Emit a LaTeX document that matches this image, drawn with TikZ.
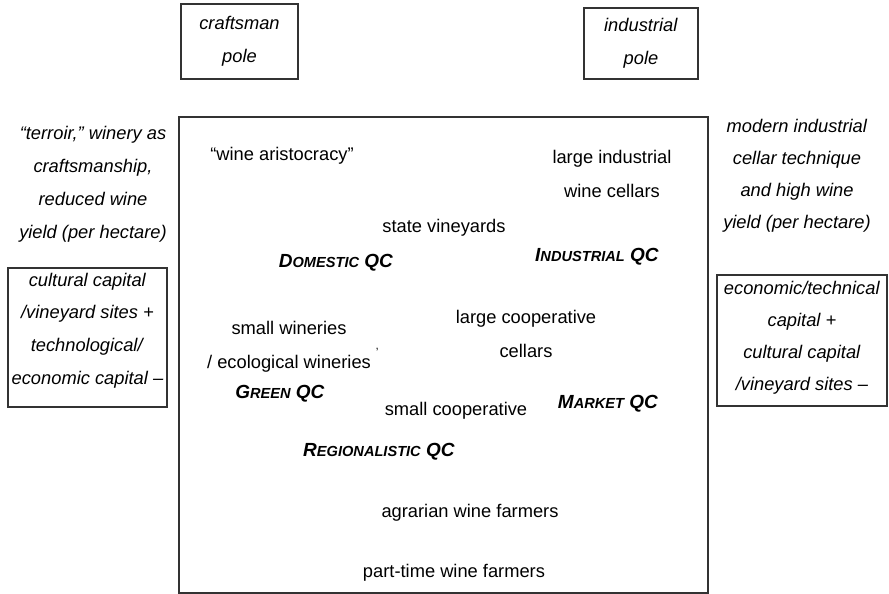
\documentclass[tikz,border=0pt]{standalone}
\usepackage{fontspec}
\setmainfont{Liberation Sans}
\usetikzlibrary{positioning}
\definecolor{FieldLine}{HTML}{333333}
% fake small caps for the quality conventions
\newcommand{\qcname}[2]{\textbf{\textit{#1{\fontsize{14.6}{15}\selectfont #2} QC}}}

\begin{document}
\begin{tikzpicture}[x=1pt, y=-1pt,
  every node/.style={inner sep=0pt},
  polebox/.style={draw=FieldLine, line width=1.1pt, align=center, font=\fontsize{18.3}{33}\selectfont},
  capbox/.style={draw=FieldLine, line width=1.1pt},
  captext/.style={align=center, font=\fontsize{18.3}{32.7}\selectfont},
  sidenote/.style={align=center, font=\fontsize{18.3}{33}\selectfont},
  actor/.style={align=center, font=\fontsize{18.3}{33.5}\selectfont},
  qc/.style={font=\fontsize{19}{20}\selectfont}]
  \useasboundingbox (0,0) rectangle (889,594);

  % poles
  \node[polebox, minimum width=117, minimum height=75] (craftpole) at (239.5,41.5) {\textit{craftsman}\\\textit{pole}};
  \node[polebox, minimum width=114, minimum height=71] (indpole) at (641,43.5) {\textit{industrial}\\\textit{pole}};

  % the field
  \node[draw=FieldLine, line width=1.1pt, minimum width=529, minimum height=476] (field) at (443.5,355) {};

  % left and right side
  \node[sidenote] (craftnote) at (93,184) {\textit{``terroir,'' winery as}\\\textit{craftsmanship,}\\\textit{reduced wine}\\\textit{yield (per hectare)}};
  \node[sidenote, font=\fontsize{18.3}{32}\selectfont] (indnote) at (797,176) {\textit{modern industrial}\\\textit{cellar technique}\\\textit{and high wine}\\\textit{yield (per hectare)}};
  \node[capbox, minimum width=159, minimum height=139] (craftcap) at (87.5,337.5) {};
  \node[captext] (craftcaptext) at ([yshift=7pt]craftcap.center) {\textit{cultural capital}\\\textit{/vineyard sites +}\\\textit{technological/}\\\textit{economic capital --}};
  \node[capbox, minimum width=170, minimum height=131] (indcap) at (802,340.5) {};
  \node[captext, font=\fontsize{18.3}{32}\selectfont] (indcaptext) at ([yshift=2.5pt]indcap.center) {\textit{economic/technical}\\\textit{capital +}\\\textit{cultural capital}\\\textit{/vineyard sites --}};

  % actors in the field
  \node[actor] (aristo) at (282,156) {``wine aristocracy''};
  \node[actor] (largeind) at (612,174) {large industrial\\wine cellars};
  \node[actor] (state) at (444,228) {state vineyards};
  \node[actor] (smallwin) at (289,347) {small wineries\\/ ecological wineries\rlap{\raisebox{1.2ex}{\kern5pt\fontsize{12}{12}\selectfont ’}}};
  \node[actor] (largecoop) at (526,334) {large cooperative\\cellars};
  \node[actor] (smallcoop) at (456,411) {small cooperative};
  \node[actor] (agrarian) at (470,513) {agrarian wine farmers};
  \node[actor] (parttime) at (454,573) {part-time wine farmers};

  % quality conventions
  \node[qc] (domestic) at (336,263) {\qcname{D}{OMESTIC}};
  \node[qc] (industrial) at (597,257) {\qcname{I}{NDUSTRIAL}};
  \node[qc] (green) at (280,394) {\qcname{G}{REEN}};
  \node[qc] (market) at (608,404) {\qcname{M}{ARKET}};
  \node[qc] (regional) at (379,452) {\qcname{R}{EGIONALISTIC}};
\end{tikzpicture}
\end{document}
